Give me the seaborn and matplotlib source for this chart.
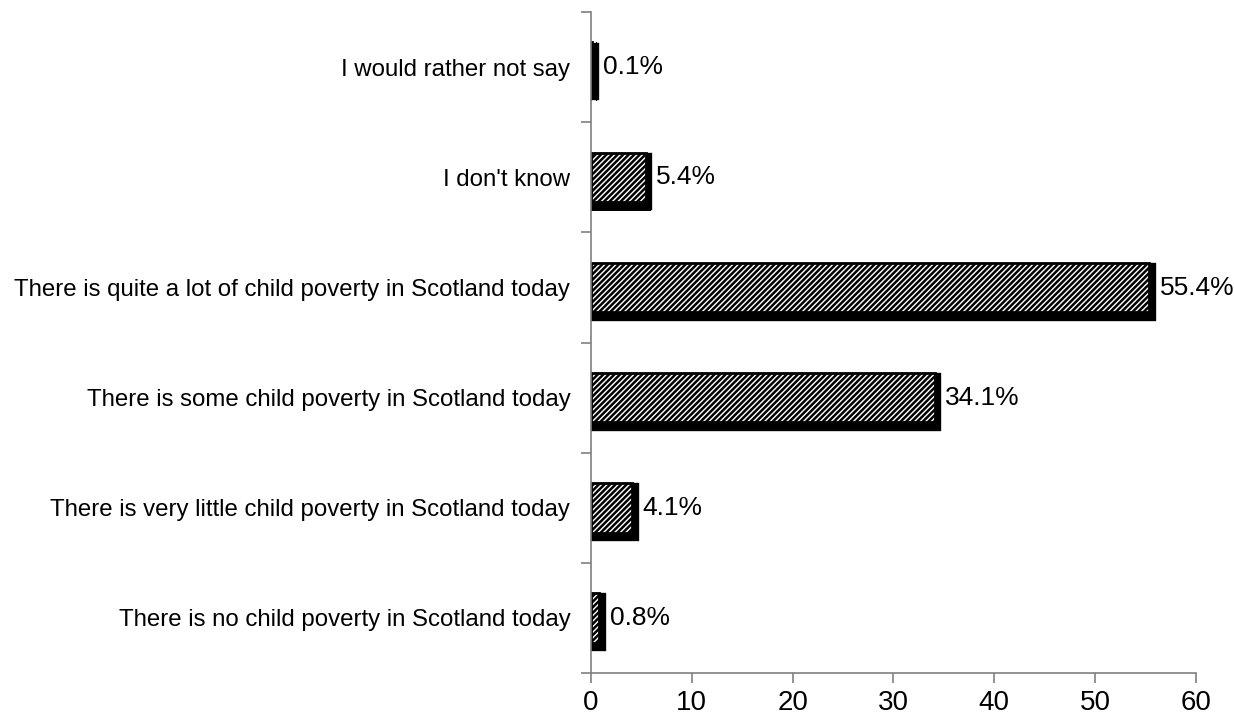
import matplotlib
matplotlib.use("Agg")
import matplotlib.pyplot as plt
import matplotlib.patheffects as pe
import seaborn as sns
import pandas as pd
import numpy as np

categories = [
    "I would rather not say",
    "I don't know",
    "There is quite a lot of child poverty in Scotland today",
    "There is some child poverty in Scotland today",
    "There is very little child poverty in Scotland today",
    "There is no child poverty in Scotland today",
]
values = [0.1, 5.4, 55.4, 34.1, 4.1, 0.8]
x_ticks = [0, 10, 20, 30, 40, 50, 60]

sns.set_theme(style="white")
plt.rcParams["font.family"] = ["Liberation Sans", "DejaVu Sans"]
plt.rcParams["hatch.linewidth"] = 1.8

df = pd.DataFrame({"category": categories, "value": values})

fig = plt.figure(figsize=(12.34, 7.16), dpi=100)
ax = fig.add_axes([0.479, 0.060, 0.490, 0.923])

sns.barplot(data=df, x="value", y="category", order=categories, ax=ax,
            color="white", width=0.45, edgecolor="black", linewidth=2,
            hatch="//////")

for p in ax.patches:
    p.set_path_effects([
        pe.SimplePatchShadow(offset=(0, -6.2), shadow_rgbFace="black", alpha=1.0),
        pe.SimplePatchShadow(offset=(3.8, -6.2), shadow_rgbFace="black", alpha=1.0),
        pe.SimplePatchShadow(offset=(3.8, 0), shadow_rgbFace="black", alpha=1.0),
        pe.Stroke(offset=(1.9, -3.1), linewidth=6, foreground="black"),
        pe.Normal(),
    ])

for cont in ax.containers:
    ax.bar_label(cont, labels=[f"{v:.1f}%" for v in values], padding=7.5,
                 fontsize=19, color="black")

ax.set_xlim(0, 60)
ax.set_ylim(5.5, -0.5)
ax.set_xticks(x_ticks)
ax.set_xticklabels([str(t) for t in x_ticks], fontsize=20)
ax.set_xlabel("")
ax.set_ylabel("")
ax.set_yticks(np.arange(-0.5, 6, 1), minor=True)
ax.tick_params(axis="y", which="major", left=True, length=0, labelsize=17.3, pad=15,
               labelcolor="black")
ax.tick_params(axis="y", which="minor", left=True, length=7, color="#808080", width=1.2,
               direction="out")
ax.tick_params(axis="x", which="major", bottom=True, length=7, color="#808080", width=1.2,
               direction="out", pad=5, labelcolor="black")

for s in ["top", "right"]:
    ax.spines[s].set_visible(False)
for s in ["left", "bottom"]:
    ax.spines[s].set_color("#808080")
    ax.spines[s].set_linewidth(1.2)

fig.savefig("out.png", dpi=100)
